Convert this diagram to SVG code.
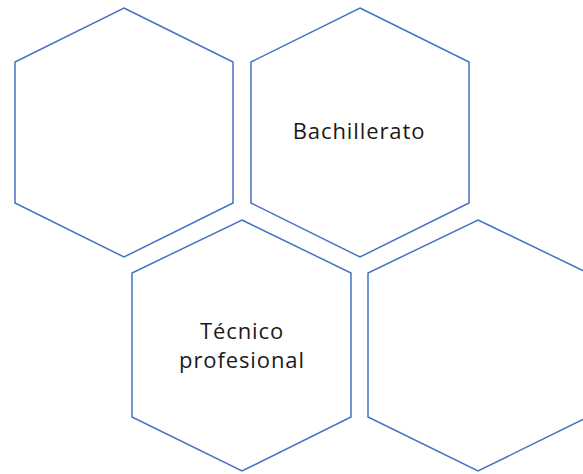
<svg xmlns="http://www.w3.org/2000/svg" width="583" height="474" viewBox="0 0 583 474">
<style>
.hex{fill:#ffffff;stroke:#4472C4;stroke-width:1.5;stroke-linejoin:miter}
.lbl{font-family:"Open Sans","Liberation Sans",sans-serif;font-size:22px;fill:#1a1a1a;text-anchor:middle;letter-spacing:0.9px}
</style>
<rect width="583" height="474" fill="#ffffff"/>
<g id="hex1"><polygon class="hex" points="124,8 233,62 233,203 124,257 15,203 15,62"/></g>
<g id="hex2"><polygon class="hex" points="360,8 469,62 469,203 360,257 251,203 251,62"/><text class="lbl" x="359" y="139">Bachillerato</text></g>
<g id="hex3"><polygon class="hex" points="242,220 351,273 351,417 242,471 132,417 132,273"/><text class="lbl" x="242" y="339">Técnico</text><text class="lbl" x="242" y="368">profesional</text></g>
<g id="hex4"><polygon class="hex" points="478,220 588,273 588,417 478,471 368,417 368,273"/></g>
<g id="connectors"></g>
</svg>
